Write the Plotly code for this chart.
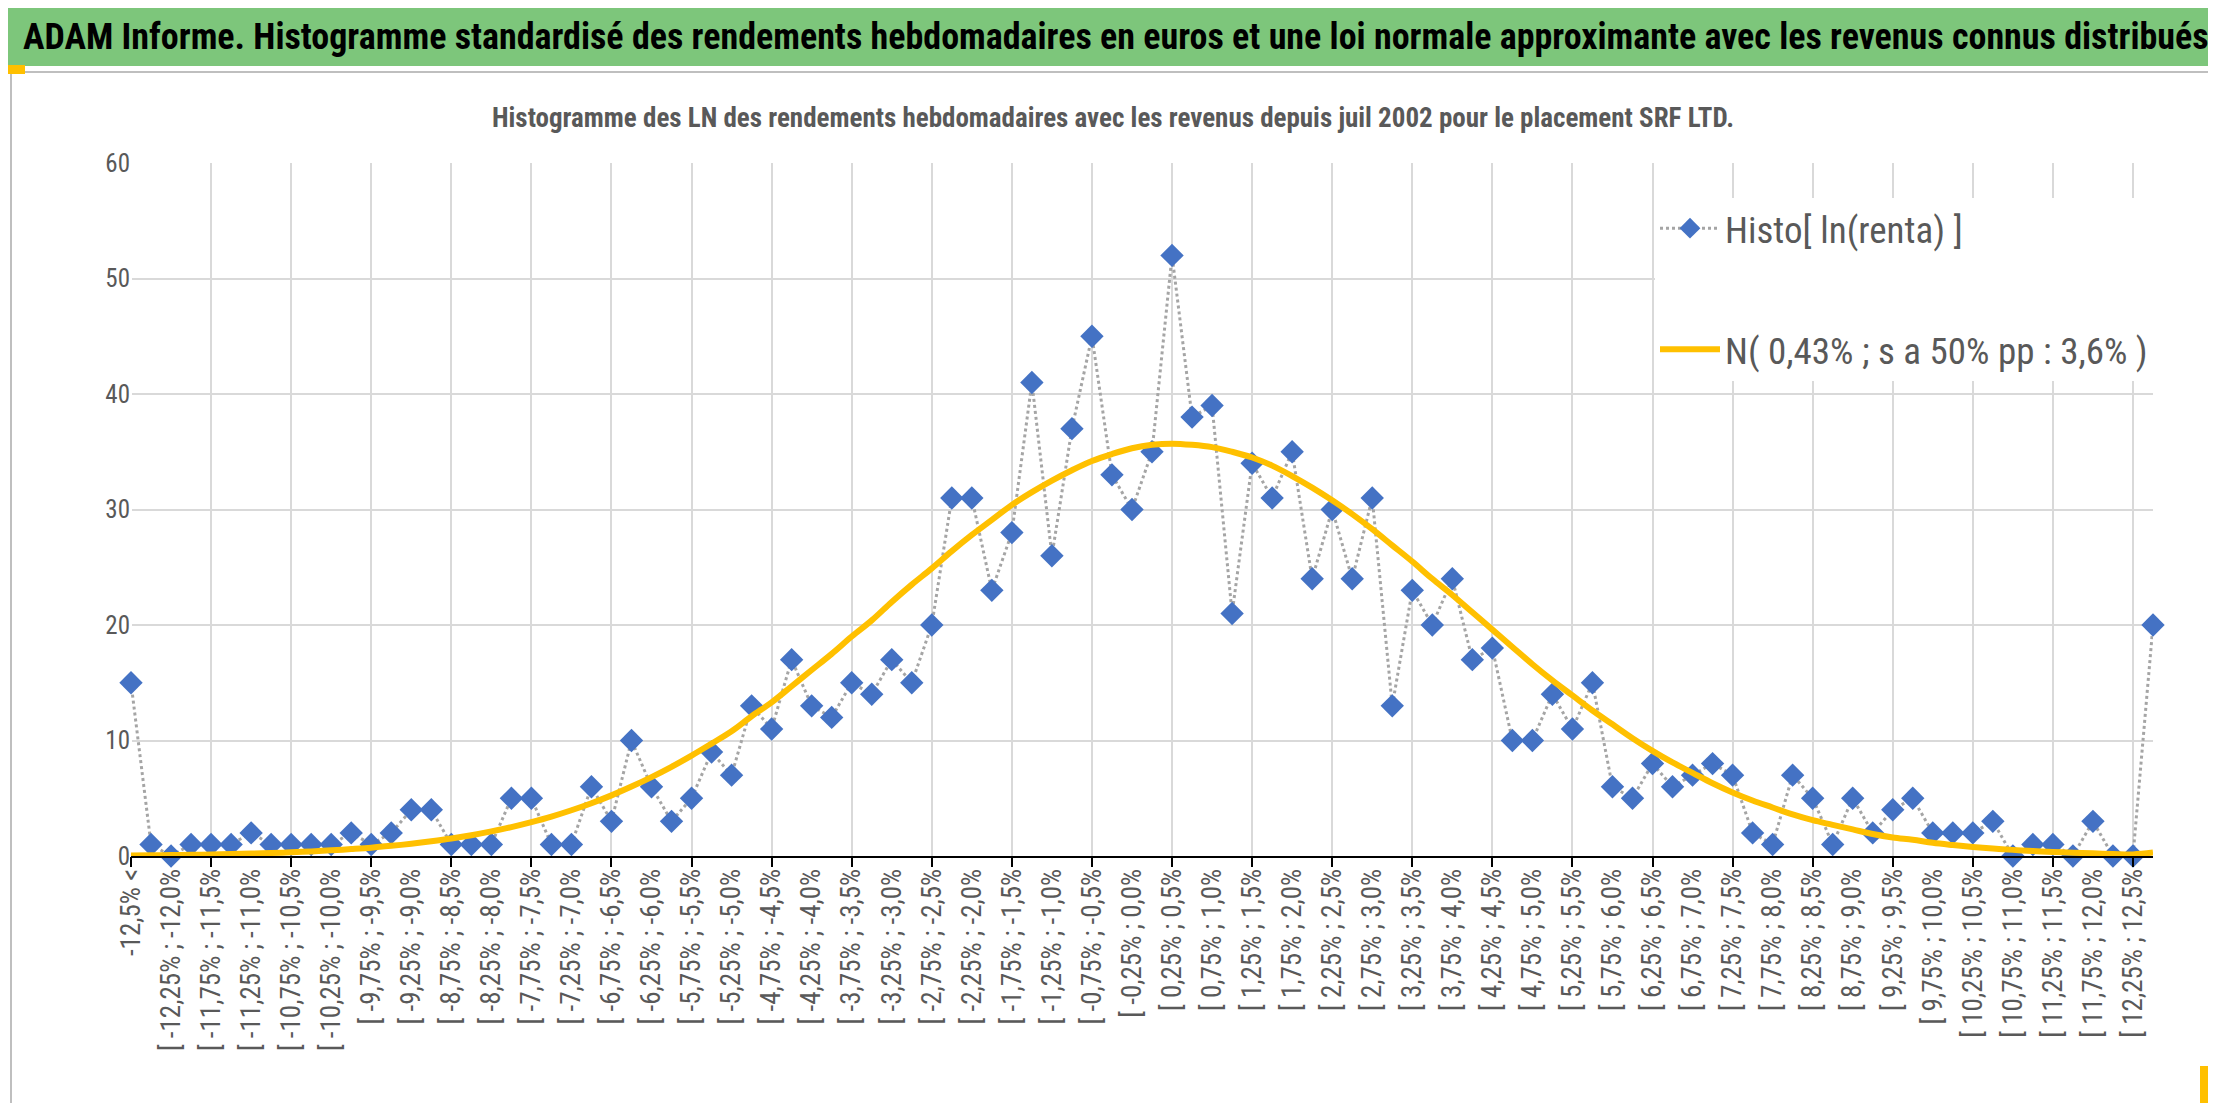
import plotly.graph_objects as go

histo = [15, 1, 0, 1, 1, 1, 2, 1, 1, 1, 1, 2, 1, 2, 4, 4, 1, 1, 1, 5,
         5, 1, 1, 6, 3, 10, 6, 3, 5, 9, 7, 13, 11, 17, 13, 12, 15, 14, 17, 15,
         20, 31, 31, 23, 28, 41, 26, 37, 45, 33, 30, 35, 52, 38, 39, 21, 34, 31, 35, 24,
         30, 24, 31, 13, 23, 20, 24, 17, 18, 10, 10, 14, 11, 15, 6, 5, 8, 6, 7, 8,
         7, 2, 1, 7, 5, 1, 5, 2, 4, 5, 2, 2, 2, 3, 0, 1, 1, 0, 3, 0,
         0, 20]

normal = [0.05, 0.06, 0.08, 0.10, 0.13, 0.17, 0.21, 0.26, 0.32, 0.40,
          0.49, 0.60, 0.72, 0.88, 1.06, 1.27, 1.51, 1.80, 2.13, 2.50,
          2.93, 3.41, 3.96, 4.57, 5.25, 6.01, 6.83, 7.72, 8.69, 9.73,
          10.8, 12.1, 13.3, 14.7, 16.1, 17.5, 19.0, 20.4, 22.0, 23.5,
          24.9, 26.4, 27.8, 29.1, 30.4, 31.5, 32.5, 33.4, 34.2, 34.8,
          35.3, 35.6, 35.7, 35.6, 35.4, 35.0, 34.5, 33.8, 32.9, 31.9,
          30.8, 29.6, 28.3, 26.9, 25.5, 24.0, 22.6, 21.1, 19.6, 18.1,
          16.6, 15.2, 13.9, 12.6, 11.4, 10.2, 9.1, 8.1, 7.2, 6.3,
          5.5, 4.8, 4.2, 3.6, 3.1, 2.7, 2.3, 1.9, 1.6, 1.4,
          1.14, 0.95, 0.78, 0.64, 0.53, 0.43, 0.35, 0.28, 0.23, 0.18,
          0.14, 0.3]

def pct(v):
    s = f"{v:.2f}"
    if s.endswith("0"):
        s = s[:-1]
    return s.replace(".", ",") + "%"

categories = ["-12,5% <"]
for i in range(1, 101):
    lo = -12.5 + 0.25 * (i - 1)
    hi = -12.5 + 0.25 * i
    categories.append(f"[ {pct(lo)} ; {pct(hi)}")
categories.append("12,5% <")

x = list(range(len(categories)))
label_idx = x[0:101:2]
label_txt = [categories[i] for i in label_idx]

FONT = "Liberation Sans Narrow, Roboto Condensed, Open Sans, sans-serif"
GRAY = "#595959"

fig = go.Figure()
fig.add_trace(go.Scatter(
    x=x, y=histo, mode="lines+markers", name="Histo[ ln(renta) ]",
    line=dict(color="#A5A5A5", width=3, dash="dot"),
    marker=dict(symbol="diamond", size=18, color="#4472C4"),
    legendgroup="a", cliponaxis=False))
fig.add_trace(go.Scatter(
    x=x, y=normal, mode="lines", name="N( 0,43% ; s a 50% pp : 3,6% )",
    line=dict(color="#FFC000", width=6, shape="spline"),
    legendgroup="b", cliponaxis=False))
fig.add_trace(go.Scatter(x=[0, 101], y=[None, None], xaxis="x2",
                         showlegend=False, hoverinfo="skip"))

W, H = 2216, 1103
L, R, T, B = 123, 71, 155, 255
pw, ph = W - L - R, H - T - B

def px(xp):
    return (xp - L) / pw

def py(yp):
    return 1 - (yp - T) / ph

shapes = [
    dict(type="rect", xref="paper", yref="paper", x0=px(3), x1=px(2209), y0=py(1099), y1=py(64),
         line=dict(color="#BFBFBF", width=2), fillcolor="rgba(0,0,0,0)", layer="below"),
    dict(type="rect", xref="paper", yref="paper", x0=px(0), x1=px(W), y0=py(58), y1=py(0),
         line=dict(width=0), fillcolor="#7DC67B", layer="below"),
    dict(type="rect", xref="paper", yref="paper", x0=px(0), x1=px(17), y0=py(66), y1=py(57),
         line=dict(width=0), fillcolor="#FFC000"),
    dict(type="rect", xref="paper", yref="paper", x0=px(2204), x1=px(2212), y0=py(100), y1=py(60),
         line=dict(width=0), fillcolor="#FFC000"),
    dict(type="rect", xref="paper", yref="paper", x0=px(2192), x1=px(2212), y0=py(1100), y1=py(1058),
         line=dict(width=0), fillcolor="#FFC000"),
]

fig.update_layout(
    width=W, height=H,
    margin=dict(l=L, r=R, t=T, b=B),
    paper_bgcolor="white", plot_bgcolor="white",
    font=dict(family=FONT, color=GRAY, size=24),
    shapes=shapes,
    annotations=[
        dict(text="<b>ADAM Informe. Histogramme standardisé des rendements hebdomadaires en euros et une loi normale approximante avec les revenus connus distribués</b>",
             xref="paper", yref="paper", x=px(W / 2), y=py(29), showarrow=False,
             font=dict(size=36, color="black", family=FONT), xanchor="center", yanchor="middle"),
        dict(text="<b>Histogramme des LN des rendements hebdomadaires avec les revenus depuis juil 2002 pour le placement SRF LTD.</b>",
             xref="paper", yref="paper", x=px(1105), y=py(110), showarrow=False,
             font=dict(size=27, color=GRAY, family=FONT), xanchor="center", yanchor="middle"),
    ],
    xaxis=dict(range=[0, 101], tickmode="array", tickvals=list(range(0, 101, 4)),
               showticklabels=False, showgrid=True, gridcolor="#D9D9D9", gridwidth=2,
               showline=False, ticks="outside", ticklen=10, tickwidth=2, tickcolor="black",
               zeroline=False),
    xaxis2=dict(range=[0, 101], overlaying="x", anchor="y", side="bottom",
                tickmode="array", tickvals=label_idx, ticktext=label_txt,
                tickangle=-90, showgrid=False, ticks="", showline=True,
                linecolor="black", linewidth=2,
                tickfont=dict(size=27, color=GRAY, family=FONT)),
    yaxis=dict(range=[0, 60], dtick=10, showgrid=True, gridcolor="#D9D9D9", gridwidth=2,
               zeroline=False, showline=False, ticks="",
               tickfont=dict(size=25, color=GRAY, family=FONT)),
    legend=dict(x=1, xanchor="right", y=0.95, yanchor="top", bgcolor="white",
                font=dict(size=37, color=GRAY, family=FONT),
                tracegroupgap=70, traceorder="grouped",
                itemwidth=60),
    showlegend=True,
)

fig.write_html("out.html")
